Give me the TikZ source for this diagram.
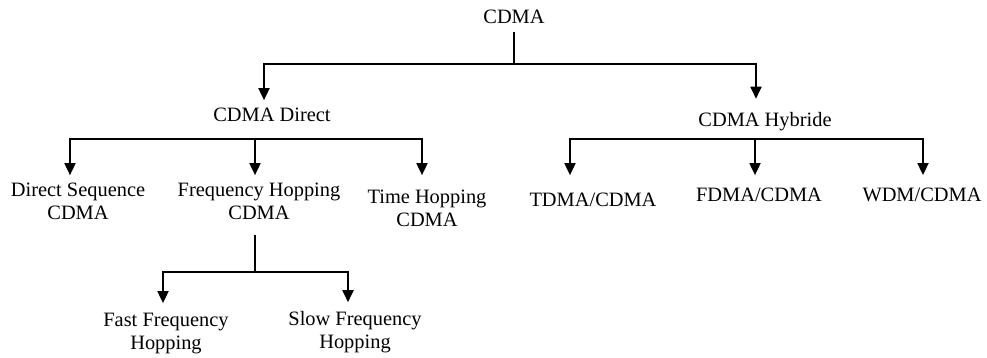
\documentclass[tikz,border=0pt]{standalone}
\usepackage{fontspec}
\setmainfont{Liberation Serif}
\usepackage{tikz}
\usetikzlibrary{arrows.meta}
\tikzstyle{cdma_t} = [align=center, inner sep=0pt, outer sep=4pt, font=\fontsize{10.2}{11.5}\selectfont]
\tikzstyle{cdma_a} = [-{Triangle[width=5.5pt,length=6pt]}, line width=0.9pt]

\begin{document}
\begin{tikzpicture}[x=0.5pt,y=-0.5pt,line width=0.9pt]
\useasboundingbox (0,0) rectangle (987,358);
% nodes
\node [cdma_t] (root) at (514,17) {CDMA};
\node [cdma_t] (direct) at (272,115) {CDMA Direct};
\node [cdma_t] (hyb) at (765,122) {CDMA Hybride};
\node [cdma_t] (ds) at (78,201.5) {Direct Sequence\\CDMA};
\node [cdma_t] (fh) at (259,201.5) {Frequency Hopping\\CDMA};
\node [cdma_t] (th) at (427,208.5) {Time Hopping\\CDMA};
\node [cdma_t] (tdma) at (593,200) {TDMA/CDMA};
\node [cdma_t] (fdma) at (759,195) {FDMA/CDMA};
\node [cdma_t] (wdm) at (922,195) {WDM/CDMA};
\node [cdma_t] (fast) at (166,333.5) {Fast Frequency\\Hopping};
\node [cdma_t] (slow) at (355,332) {Slow Frequency\\Hopping};
% junctions
\coordinate (j0) at (514,64);
\coordinate (j1) at (255,139);
\coordinate (j2) at (755,139);
\coordinate (j3) at (255,272);
% edges
\draw (root) -- (j0);
\draw [cdma_a] (j0) -| ([xshift=-4pt]direct.north);
\draw [cdma_a, shorten >=3pt] (j0) -| ([xshift=-4.5pt]hyb.north);
\draw [cdma_a] (j1) -| ([xshift=-4pt]ds.north);
\draw [cdma_a] (j1) -- ([xshift=-2pt]fh.north);
\draw [cdma_a, shorten >=3.5pt] (j1) -| ([xshift=-2.5pt]th.north);
\draw [cdma_a, shorten >=5pt] (j2) -| ([xshift=-11.5pt]tdma.north);
\draw [cdma_a, shorten >=2.5pt] (j2) -- ([xshift=-2pt]fdma.north);
\draw [cdma_a, shorten >=2.5pt] (j2) -| ([xshift=0.5pt]wdm.north);
\draw [shorten <=3.5pt] (j3 |- fh.south) -- (j3);
\draw [cdma_a, shorten >=1pt] (j3) -| ([xshift=-1.5pt]fast.north);
\draw [cdma_a, shorten >=0.5pt] (j3) -| ([xshift=-3.5pt]slow.north);
\end{tikzpicture}
\end{document}
